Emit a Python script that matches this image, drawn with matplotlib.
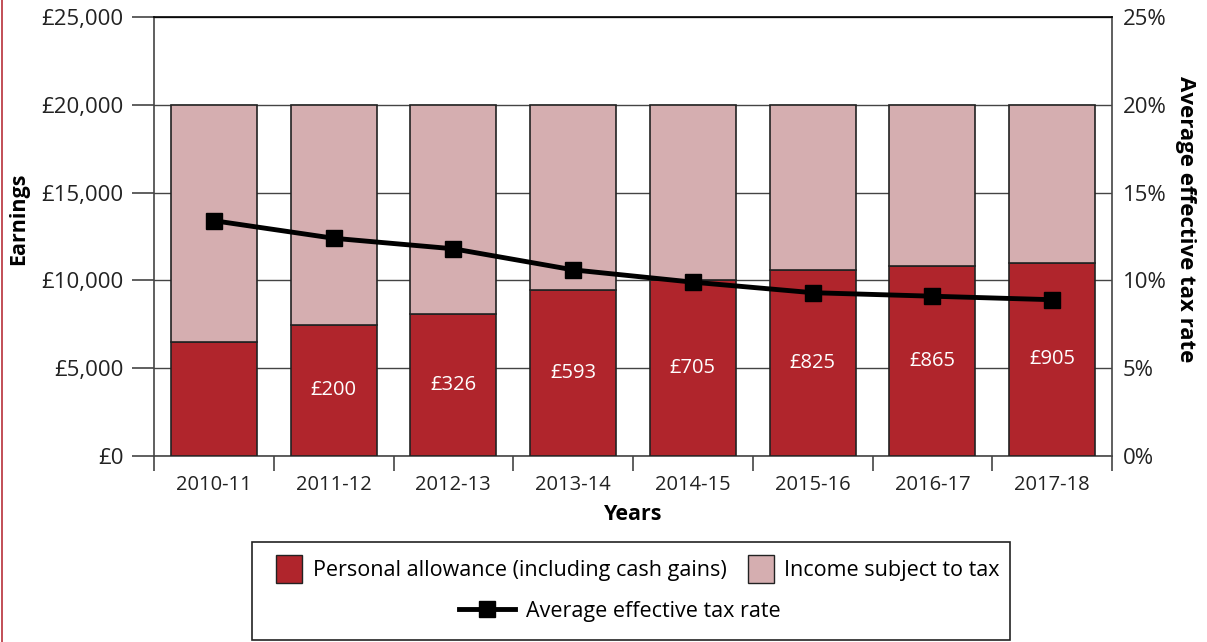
import numpy as np
import matplotlib
matplotlib.use('Agg')
import matplotlib.pyplot as plt
from matplotlib.patches import Patch, Rectangle
from matplotlib.lines import Line2D
from matplotlib.ticker import FuncFormatter

plt.rcParams['font.family'] = ['Open Sans', 'DejaVu Sans']

# data
years = ['2010-11', '2011-12', '2012-13', '2013-14', '2014-15', '2015-16', '2016-17', '2017-18']
allowance = [6475, 7475, 8105, 9440, 10000, 10600, 10800, 11000]
earnings = [20000] * 8
gain_labels = ['', '£200', '£326', '£593', '£705', '£825', '£865', '£905']
tax_rate = [13.4, 12.4, 11.8, 10.6, 9.9, 9.3, 9.1, 8.9]

dark_red = '#B0252C'
pink = '#D5AEB0'
txt = '#222222'

fig = plt.figure(figsize=(12.07, 6.42), dpi=100)
ax = fig.add_axes([154/1207, 1 - 456/642, (1112 - 154)/1207, (456 - 17)/642])

x = np.arange(len(years))
taxable = [e - a for e, a in zip(earnings, allowance)]
ax.bar(x, allowance, width=0.72, color=dark_red, edgecolor='#222222', linewidth=1.2, zorder=3)
ax.bar(x, taxable, bottom=allowance, width=0.72, color=pink, edgecolor='#222222', linewidth=1.2, zorder=3)

for i, lab in enumerate(gain_labels):
    if lab:
        ax.text(x[i], allowance[i] / 2, lab, ha='center', va='center', color='white', fontsize=14.5, zorder=4)

ax.set_xlim(-0.5, len(years) - 0.5)
ax.set_ylim(0, 25000)
ax.set_yticks(np.arange(0, 25001, 5000))
ax.yaxis.set_major_formatter(FuncFormatter(lambda v, p: '£{:,.0f}'.format(v)))
ax.grid(axis='y', color='#444444', linewidth=1.0, zorder=0)
ax.set_axisbelow(True)
ax.tick_params(axis='y', length=16, width=1.2, color='#444444', pad=6, labelsize=16, labelcolor=txt)

ax.set_xticks(x)
ax.set_xticklabels(years)
ax.set_xticks(np.arange(-0.5, len(years), 1), minor=True)
ax.tick_params(axis='x', which='major', length=0, pad=14, labelsize=14.5, labelcolor=txt)
ax.tick_params(axis='x', which='minor', length=11, width=1.2, color='#444444')

for s in ['left', 'right', 'bottom']:
    ax.spines[s].set_color('#444444')
    ax.spines[s].set_linewidth(1.2)
ax.spines['top'].set_color('black')
ax.spines['top'].set_linewidth(1.2)

ax.set_xlabel('Years', fontsize=15.5, fontweight='bold', labelpad=6, color='black')
ax.set_ylabel('Earnings', fontsize=15.5, fontweight='bold', color='black')
ax.yaxis.set_label_coords(-0.13, 0.54)

ax2 = ax.twinx()
ax2.plot(x, tax_rate, color='black', linewidth=3.5, marker='s', markersize=11, zorder=5)
ax2.set_ylim(0, 25)
ax2.set_yticks(np.arange(0, 26, 5))
ax2.yaxis.set_major_formatter(FuncFormatter(lambda v, p: '{:.0f}%'.format(v)))
ax2.tick_params(axis='y', length=0, pad=8, labelsize=16, labelcolor=txt)
for s in ax2.spines.values():
    s.set_visible(False)
ax2.set_ylabel('Average effective tax rate', fontsize=16, fontweight='bold', rotation=270, color='black')
ax2.yaxis.set_label_coords(1.088, 0.54)

# legend box
fig.add_artist(Rectangle((252/1207, 2/642), (1010 - 252)/1207, (640 - 540)/642 - 2/642,
                         transform=fig.transFigure, facecolor='white', edgecolor='#222222', linewidth=1.2))
h1 = [Patch(facecolor=dark_red, edgecolor='#222222', label='Personal allowance (including cash gains)'),
      Patch(facecolor=pink, edgecolor='#222222', label='Income subject to tax')]
fig.legend(handles=h1, loc='center', bbox_to_anchor=(638/1207, 1 - 569/642), ncol=2, frameon=False,
           fontsize=15.5, handlelength=1.2, handleheight=1.6, columnspacing=1.0, handletextpad=0.5)
h2 = [Line2D([], [], color='black', linewidth=3.5, marker='s', markersize=11, label='Average effective tax rate')]
fig.legend(handles=h2, loc='center', bbox_to_anchor=(620/1207, 1 - 611/642), frameon=False,
           fontsize=15.5, handlelength=2.6, handletextpad=0.5)

# thin red border at left edge
fig.add_artist(Line2D([2/1207, 2/1207], [0, 1], transform=fig.transFigure, color='#B8303A', linewidth=1.2))

fig.savefig('out.png', dpi=100)
